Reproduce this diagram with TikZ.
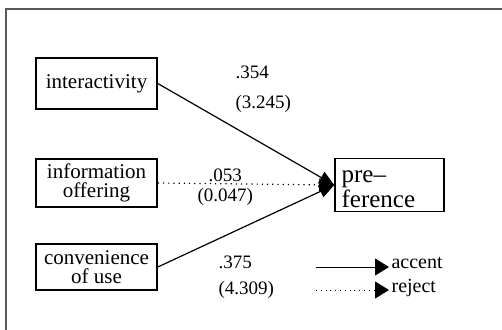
\documentclass[tikz,border=0pt]{standalone}
\usepackage{fontspec}
\setmainfont{Liberation Serif}
\usetikzlibrary{arrows.meta}
\begin{document}
\begin{tikzpicture}[x=0.5pt, y=-0.5pt, line width=0.6pt,
	var/.style={draw, line width=0.8pt, minimum width=60.5pt, align=center, inner sep=0pt, font=\fontsize{10.5}{9.2}\selectfont},
	path/.style={-{Triangle[length=7.5pt,width=6.5pt]}},
	key/.style={-{Triangle[length=7pt,width=8.5pt]}},
	coef/.style={anchor=west, inner sep=0pt, font=\fontsize{9.5}{11}\selectfont}]
	\useasboundingbox (0,0) rectangle (502,329);
	\draw [gray!70!black] (6,340) -- (6,9) -- (510,9);

	% variables
	\node [var, minimum height=25.5pt] (inter) at (96.5,83.5) {interactivity};
	\node [var, minimum height=24pt] (info) at (96.5,183) {information\\offering};
	\node [var, minimum height=23pt] (conv) at (96.5,267) {convenience\\of use};
	\node [draw, line width=0.8pt, minimum width=54.5pt, minimum height=26.5pt, inner sep=0pt] (pref) at (389.5,185) {};
	\node [anchor=west, align=left, inner sep=0pt, font=\fontsize{12.5}{10.5}\selectfont] (preftxt) at (341,189) {pre–\\ference};

	% paths
	\draw [path] (inter.east) -- (pref.west);
	\draw [path, dotted] (info.east) -- (pref.west);
	\draw [path] (conv.east) -- (pref.west);

	\node [coef] (c1) at (235,72) {.354};
	\node [coef] (t1) at (235,104) {(3.245)};
	\node [coef] (c2) at (208,175) {.053};
	\node [coef] (t2) at (197,197) {(0.047)};
	\node [coef] (c3) at (218,262) {.375};
	\node [coef] (t3) at (218,290) {(4.309)};

	% legend
	\coordinate (acc0) at (316,267);
	\coordinate (rej0) at (316,290);
	\node [anchor=west, inner sep=1pt, font=\fontsize{10}{11}\selectfont] (acc) at (389,263) {accent};
	\node [anchor=west, inner sep=1pt, font=\fontsize{10}{11}\selectfont] (rej) at (389,288) {reject};
	\draw [key, line width=0.4pt] (acc0) -- (acc0 -| acc.west);
	\draw [key, line width=0.4pt, dotted] (rej0) -- (rej0 -| rej.west);
\end{tikzpicture}
\end{document}
